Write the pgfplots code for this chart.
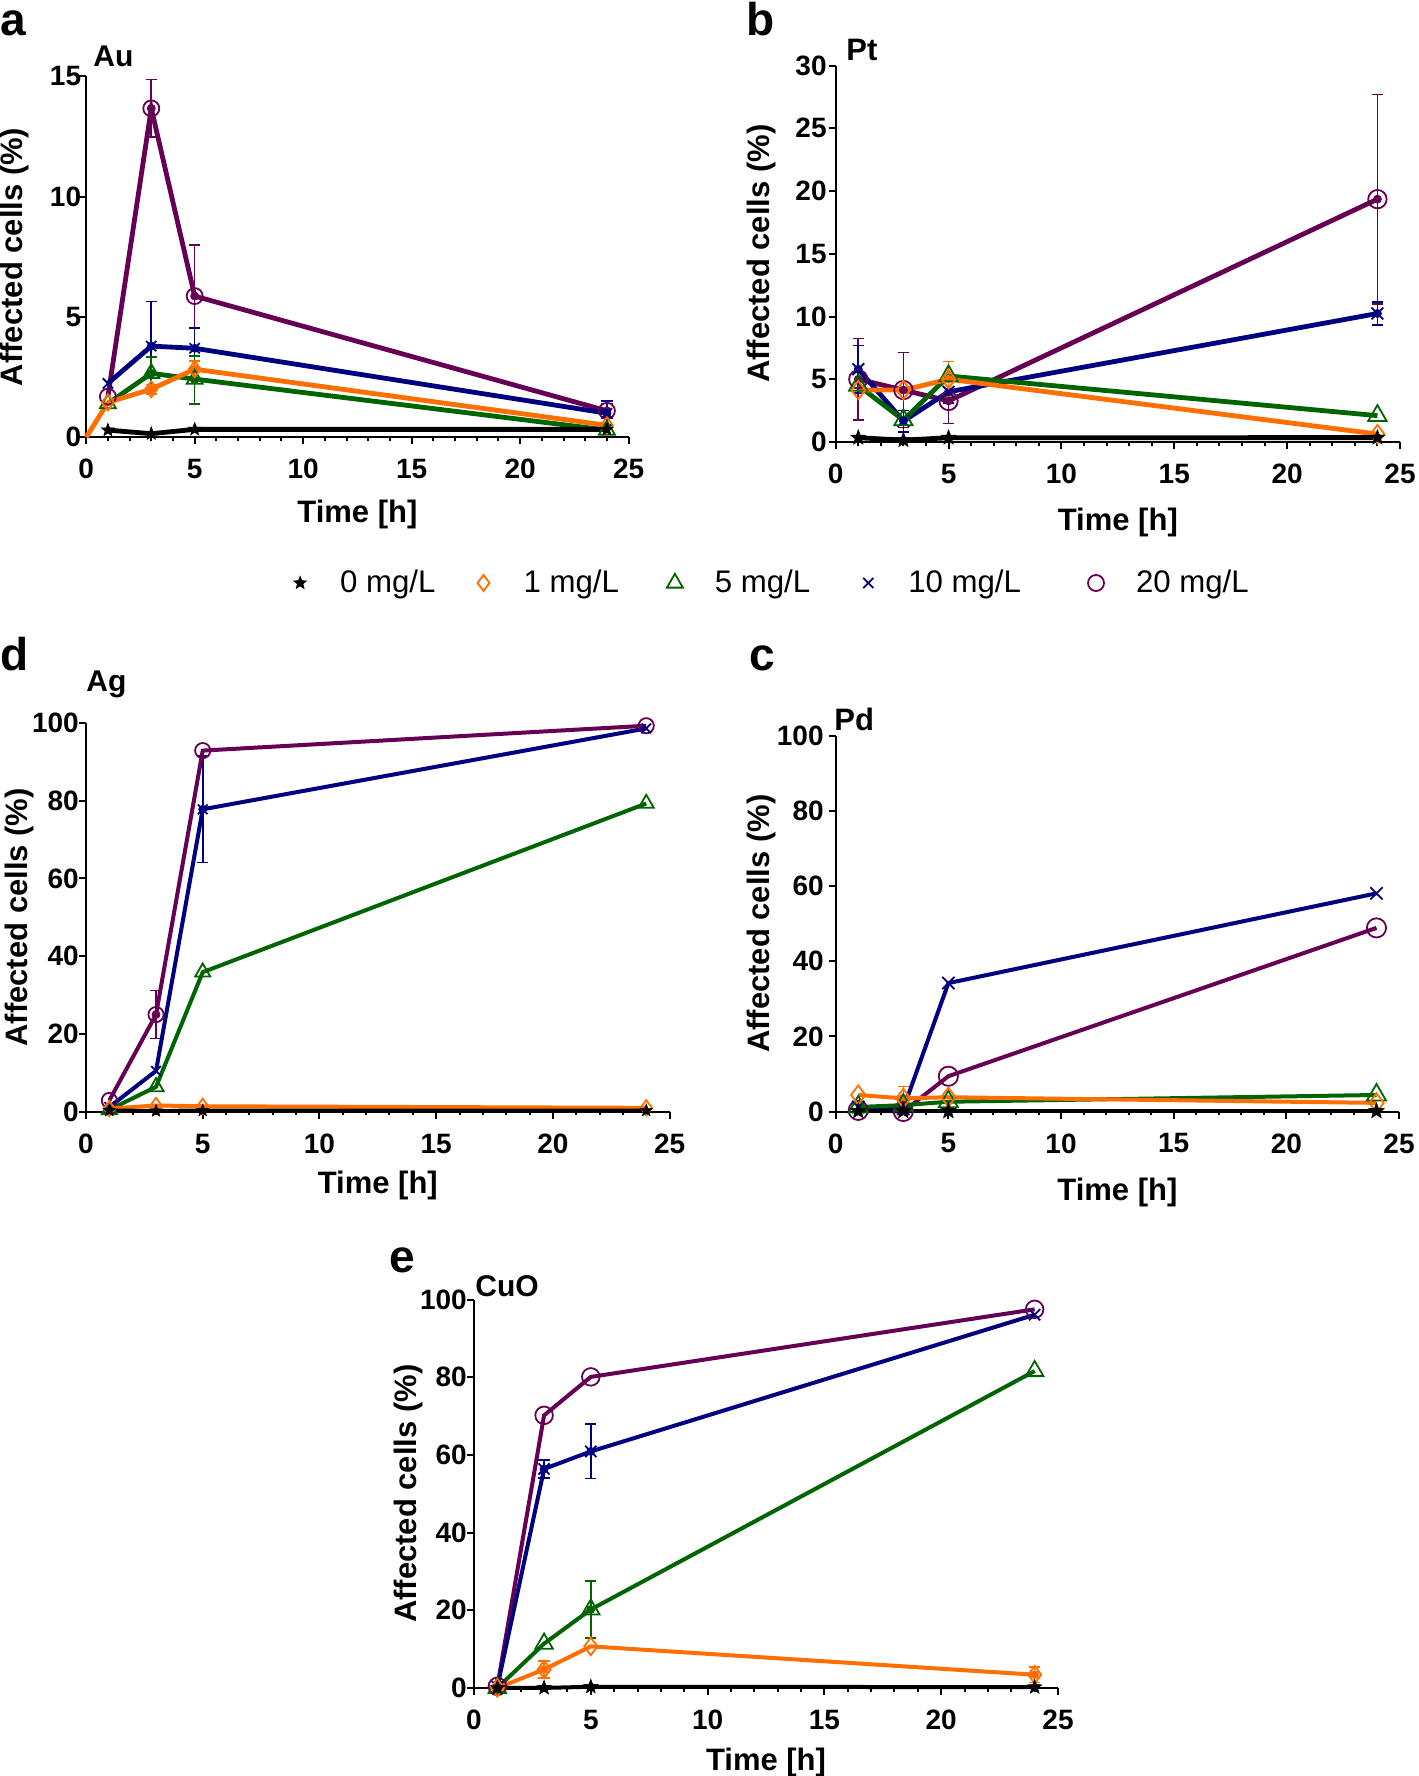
\documentclass[border=0pt]{standalone}
\usepackage{fontspec}
\setmainfont{Liberation Sans}
\usepackage{pgfplots}
\pgfplotsset{compat=1.18}
\usetikzlibrary{plotmarks}

\definecolor{cpur}{RGB}{102,0,85}
\definecolor{cblu}{RGB}{0,0,128}
\definecolor{cgrn}{RGB}{0,100,0}
\definecolor{corg}{RGB}{255,110,0}

\pgfdeclareplotmark{fstar}{%
\pgfpathmoveto{\pgfpointpolar{90}{\pgfplotmarksize}}%
\pgfpathlineto{\pgfpointpolar{126}{0.42\pgfplotmarksize}}%
\pgfpathlineto{\pgfpointpolar{162}{\pgfplotmarksize}}%
\pgfpathlineto{\pgfpointpolar{198}{0.42\pgfplotmarksize}}%
\pgfpathlineto{\pgfpointpolar{234}{\pgfplotmarksize}}%
\pgfpathlineto{\pgfpointpolar{270}{0.42\pgfplotmarksize}}%
\pgfpathlineto{\pgfpointpolar{306}{\pgfplotmarksize}}%
\pgfpathlineto{\pgfpointpolar{342}{0.42\pgfplotmarksize}}%
\pgfpathlineto{\pgfpointpolar{18}{\pgfplotmarksize}}%
\pgfpathlineto{\pgfpointpolar{54}{0.42\pgfplotmarksize}}%
\pgfpathclose
\pgfusepathqfillstroke}

\def\mk{1}\def\lw{2.4pt}
\pgfplotsset{
  s20/.style={cpur, line width=\lw, mark=o, mark size=4pt*\mk, mark options={line width=0.9pt, solid}},
  s10/.style={cblu, line width=\lw, mark=x, mark size=3.6pt*\mk, mark options={line width=0.9pt, solid}},
  s5/.style={cgrn, line width=\lw, mark=triangle, mark size=4.6pt*\mk, mark options={line width=0.9pt, solid}},
  s1/.style={corg, line width=\lw, mark=diamond, mark size=4pt*\mk, mark options={line width=0.9pt, solid}},
  s0/.style={black, line width=\lw, mark=fstar, mark size=3.4pt*\mk, mark options={line width=0.3pt, fill=black, solid}},
  lg/.style={legend image code/.code={\path[draw=none,fill=none] (-9pt,-3pt) (9pt,3pt); \draw[##1, /tikz/only marks] plot coordinates {(0pt,0pt)};}},
  eb/.style={#1, only marks, mark=none, forget plot, error bars/.cd, y dir=both, y explicit,
     error bar style={line width=0.8pt, #1}, error mark options={rotate=90, mark size=2.8pt, line width=0.8pt, #1}},
  myax/.style={scale only axis, anchor=south west, xmin=0, xmax=25, ymin=0, clip=false,
     axis x line*=bottom, axis y line*=left, axis line style={line width=1pt,-},
     xtick={0,5,...,25}, minor x tick num=4, tick align=outside,
     major tick length=3.5pt, minor tick length=1.8pt, tick style={line width=1pt, black},
     tick label style={font=\bfseries\fontsize{14}{14}\selectfont},
     xticklabel shift=4pt, yticklabel shift=-3pt,
     /pgf/number format/assume math mode=true,
     xlabel={Time [h]}, ylabel={Affected cells (\%)},
     label style={font=\bfseries\fontsize{15.5}{15.5}\selectfont},
     every axis plot/.append style={forget plot}},
}

\begin{document}
\begin{tikzpicture}
\useasboundingbox (0,0) rectangle (709pt,-888pt);

% panel letters and titles
\node[anchor=base west, inner sep=0, font=\bfseries\fontsize{23}{23}\selectfont] at (0pt,-18pt) {a};
\node[anchor=base west, inner sep=0, font=\bfseries\fontsize{23}{23}\selectfont] at (373pt,-18pt) {b};
\node[anchor=base west, inner sep=0, font=\bfseries\fontsize{23}{23}\selectfont] at (0pt,-335pt) {d};
\node[anchor=base west, inner sep=0, font=\bfseries\fontsize{23}{23}\selectfont] at (374.5pt,-335pt) {c};
\node[anchor=base west, inner sep=0, font=\bfseries\fontsize{23}{23}\selectfont] at (194.5pt,-636pt) {e};
\node[anchor=base west, inner sep=0, font=\bfseries\fontsize{15}{15}\selectfont] at (46.5pt,-33.5pt) {Au};
\node[anchor=base west, inner sep=0, font=\bfseries\fontsize{15.5}{15.5}\selectfont] at (423pt,-30.15pt) {Pt};
\node[anchor=base west, inner sep=0, font=\bfseries\fontsize{15}{15}\selectfont] at (43pt,-345.9pt) {Ag};
\node[anchor=base west, inner sep=0, font=\bfseries\fontsize{15.5}{15.5}\selectfont] at (417pt,-365pt) {Pd};
\node[anchor=base west, inner sep=0, font=\bfseries\fontsize{15}{15}\selectfont] at (237.5pt,-648pt) {CuO};

% ---------------- a: Au
\def\mk{1}\def\lw{2.4pt}
\begin{axis}[myax, at={(43.1pt,-218.65pt)}, width=271.2pt, height=180.45pt,
  ymax=15, ytick={0,5,10,15}, yticklabel shift=-4.5pt,
  xlabel style={at={(axis description cs:0.5,-0.213)}, anchor=center},
  ylabel style={at={(axis description cs:-0.1327,0.5)}, anchor=center},
  legend columns=5,
  legend style={draw=none, fill=none, at={(axis description cs:1.256,-0.4037)}, anchor=center,
    font=\fontsize{15.6}{15.6}\selectfont,
    /tikz/every odd column/.append style={column sep=9pt},
    /tikz/every even column/.append style={column sep=11.5pt}},
]
\addplot[eb=cpur] coordinates {(3,13.67) +- (0,1.2) (5,5.87) +- (0,2.13) (24,1.1) +- (0,0.3)};
\addplot[eb=cblu] coordinates {(3,3.79) +- (0,1.85) (5,3.70) +- (0,0.84) (24,1.0) +- (0,0.5)};
\addplot[eb=cgrn] coordinates {(3,2.66) +- (0,0.69) (5,2.38) +- (0,1.0)};
\addplot[eb=corg] coordinates {(3,2.0) +- (0,0.2) (5,2.83) +- (0,0.35)};
\addplot[s20] coordinates {(1,1.69)(3,13.67)(5,5.87)(24,1.1)};
\addplot[s10] coordinates {(1,2.24)(3,3.79)(5,3.70)(24,1.0)};
\addplot[s5] coordinates {(1,1.4)(3,2.66)(5,2.42)(24,0.3)};
\addplot[corg, line width=\lw, mark=none] coordinates {(0,0)(1,1.45)};
\addplot[s1] coordinates {(1,1.45)(3,2.0)(5,2.83)(24,0.5)};
\addplot[s0] coordinates {(1,0.3)(3,0.15)(5,0.33)(24,0.33)};
\addlegendimage{s0, lg}\addlegendentry{0 mg/L\rule{1.5pt}{0pt}}
\addlegendimage{s1, lg}\addlegendentry{1 mg/L\rule{5.5pt}{0pt}}
\addlegendimage{s5, lg}\addlegendentry{5 mg/L\rule{6.5pt}{0pt}}
\addlegendimage{s10, lg}\addlegendentry{10 mg/L\rule{15pt}{0pt}}
\addlegendimage{s20, lg}\addlegendentry{20 mg/L}
\end{axis}

% ---------------- b: Pt
\def\mk{1.15}\def\lw{2.4pt}
\begin{axis}[myax, at={(417.85pt,-221pt)}, width=282.15pt, height=188.25pt,
  ymax=30, ytick={0,5,...,30}, yticklabel shift=-2.5pt,
  xlabel style={at={(axis description cs:0.5,-0.2125)}, anchor=center},
  ylabel style={at={(axis description cs:-0.1324,0.5)}, anchor=center}]
\addplot[eb=cpur] coordinates {(1,5.0) +- (0,3.25) (3,4.14) +- (0,3.0) (5,3.27) +- (0,1.8) (24,19.35) +- (0,8.35)};
\addplot[eb=cblu] coordinates {(1,5.8) +- (0,1.9) (3,1.67) +- (0,0.85) (5,4.0) +- (0,0.9) (24,10.24) +- (0,0.9)};
\addplot[eb=corg] coordinates {(5,5.0) +- (0,1.4)};
\addplot[s20] coordinates {(1,5.0)(3,4.14)(5,3.27)(24,19.35)};
\addplot[s10] coordinates {(1,5.8)(3,1.67)(5,4.0)(24,10.24)};
\addplot[s5] coordinates {(1,4.5)(3,1.75)(5,5.26)(24,2.1)};
\addplot[s1] coordinates {(1,4.14)(3,4.14)(5,5.0)(24,0.63)};
\addplot[s0] coordinates {(1,0.34)(3,0.15)(5,0.34)(24,0.35)};
\end{axis}

% ---------------- d: Ag
\def\mk{0.95}\def\lw{2pt}
\begin{axis}[myax, at={(43pt,-555.85pt)}, width=291.8pt, height=194.35pt,
  ymax=100, ytick={0,20,...,100}, yticklabel shift=-3.4pt,
  xlabel style={at={(axis description cs:0.5,-0.190)}, anchor=center},
  ylabel style={at={(axis description cs:-0.1148,0.5)}, anchor=center}]
\addplot[eb=cpur] coordinates {(3,25) +- (0,6.2)};
\addplot[eb=cblu] coordinates {(5,77.8) +- (0,13.7)};
\addplot[s20] coordinates {(1,2.9)(3,25)(5,92.9)(24,99.3)};
\addplot[s10] coordinates {(1,1.2)(3,10.5)(5,77.8)(24,98.6)};
\addplot[s5] coordinates {(1,0.5)(3,6.4)(5,35.9)(24,79.3)};
\addplot[s1] coordinates {(1,0.8)(3,1.6)(5,1.4)(24,1.0)};
\addplot[s0] coordinates {(1,0.3)(3,0.2)(5,0.3)(24,0.3)};
\end{axis}

% ---------------- c: Pd
\def\mk{1.2}\def\lw{2pt}
\begin{axis}[myax, at={(417.85pt,-555.75pt)}, width=281.65pt, height=187.75pt,
  ymax=100, ytick={0,20,...,100}, yticklabel shift=-1pt,
  xlabel style={at={(axis description cs:0.5,-0.215)}, anchor=center},
  ylabel style={at={(axis description cs:-0.1326,0.5)}, anchor=center}]
\addplot[eb=corg] coordinates {(3,3.5) +- (0,3.2)};
\addplot[s20] coordinates {(1,0.3)(3,0)(5,9.4)(24,48.9)};
\addplot[s10] coordinates {(1,1.2)(3,0.7)(5,34.2)(24,58.1)};
\addplot[s5] coordinates {(1,1.2)(3,1.7)(5,2.6)(24,4.4)};
\addplot[s1] coordinates {(1,4.4)(3,3.5)(5,3.8)(24,2.3)};
\addplot[s0] coordinates {(1,0.1)(3,0.1)(5,0.1)(24,0.1)};
\end{axis}

% ---------------- e: CuO
\def\mk{1.1}\def\lw{2pt}
\begin{axis}[myax, at={(237pt,-843.95pt)}, width=292pt, height=194.15pt,
  ymax=100, ytick={0,20,...,100}, yticklabel shift=-3.4pt,
  xlabel style={at={(axis description cs:0.5,-0.191)}, anchor=center},
  ylabel style={at={(axis description cs:-0.1118,0.5)}, anchor=center}]
\addplot[eb=cblu] coordinates {(3,56.4) +- (0,2.3) (5,60.9) +- (0,7.0)};
\addplot[eb=cgrn] coordinates {(5,20.2) +- (0,7.3)};
\addplot[eb=corg] coordinates {(3,4.75) +- (0,2.2) (24,3.4) +- (0,2.0)};
\addplot[s20] coordinates {(1,0.4)(3,70.2)(5,80.1)(24,97.5)};
\addplot[s10] coordinates {(1,0.3)(3,56.4)(5,60.9)(24,96.1)};
\addplot[s5] coordinates {(1,0)(3,11.4)(5,20.2)(24,81.6)};
\addplot[s1] coordinates {(1,0)(3,4.75)(5,10.7)(24,3.4)};
\addplot[s0] coordinates {(1,0)(3,0)(5,0.3)(24,0.2)};
\end{axis}
\end{tikzpicture}
\end{document}
